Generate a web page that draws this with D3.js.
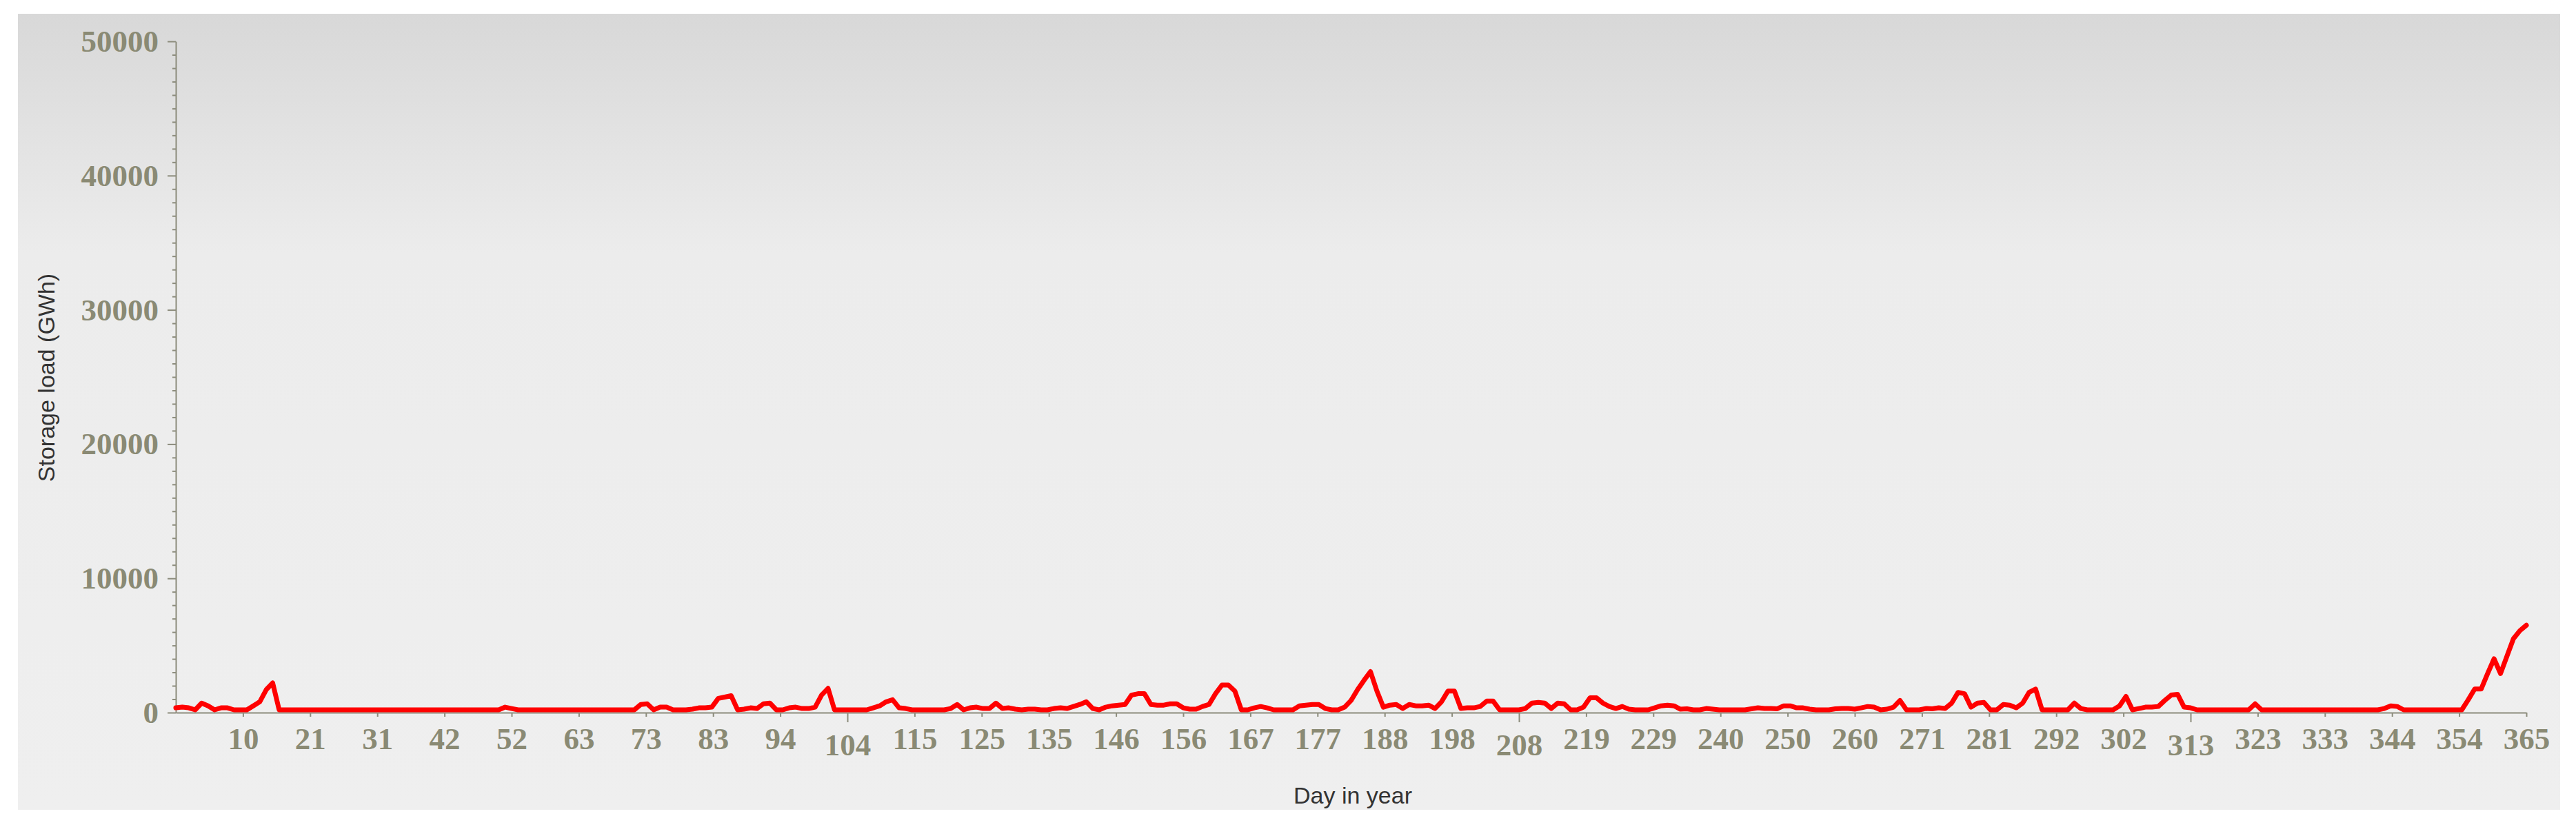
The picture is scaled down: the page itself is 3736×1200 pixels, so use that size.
<!DOCTYPE html>
<html>
<head>
<meta charset="utf-8">
<script src="https://cdn.jsdelivr.net/npm/d3@7"></script>
<style>
  html, body { margin: 0; padding: 0; background: #ffffff; }
  svg { display: block; }
</style>
</head>
<body>
<svg id="chart" width="3736" height="1200"></svg>
<script>
// ---- Data ----
const yTickValues = [0, 10000, 20000, 30000, 40000, 50000];
const xTickLabels = ["10","21","31","42","52","63","73","83","94","104","115","125","135","146","156","167","177","188","198","208","219","229","240","250","260","271","281","292","302","313","323","333","344","354","365"];
const staggeredLabels = ["104","208","313"];
// daily storage load (GWh), day index 0..364
const storageLoad = [
  150,200,150,0,500,300,0,150,150,0,            // 0-9
  0,0,300,600,1500,2000,0,0,0,0,                // 10-19
  0,0,0,0,0,0,0,0,0,0,                          // 20-29
  0,0,0,0,0,0,0,0,0,0,                          // 30-39
  0,0,0,0,0,0,0,0,0,0,                          // 40-49
  0,200,100,0,0,0,0,0,0,0,                      // 50-59
  0,0,0,0,0,0,0,0,0,0,                          // 60-69
  0,0,400,450,0,200,200,0,0,0,                  // 70-79
  50,150,150,200,850,950,1050,0,50,150,         // 80-89
  100,450,500,0,0,150,200,100,100,200,          // 90-99
  1100,1600,0,0,0,0,0,0,150,300,                // 100-109
  600,750,150,100,0,0,0,0,0,0,                  // 110-119
  100,400,0,150,200,100,100,500,100,150,        // 120-129
  50,0,50,50,0,0,100,150,100,250,               // 130-139
  400,600,100,0,200,300,350,400,1100,1200,      // 140-149
  1200,400,350,350,450,450,150,50,50,250,       // 150-159
  400,1200,1850,1850,1400,0,0,150,250,150,      // 160-169
  0,0,0,0,300,350,400,400,100,0,                // 170-179
  0,200,700,1500,2200,2850,1400,200,350,400,    // 180-189
  100,400,300,300,350,100,600,1400,1400,100,    // 190-199
  150,150,250,650,650,0,0,0,0,100,              // 200-209
  500,550,500,100,500,450,0,0,200,900,          // 210-219
  900,500,250,100,250,50,0,0,0,150,             // 220-229
  300,350,300,50,80,0,0,100,50,0,               // 230-239
  0,0,0,0,80,150,100,100,80,300,                // 240-249
  300,150,150,50,0,0,0,80,100,100,              // 250-259
  50,150,250,200,0,50,200,700,0,0,              // 260-269
  0,100,80,150,100,500,1300,1200,200,500,       // 270-279
  550,0,0,400,350,150,500,1300,1550,0,          // 280-289
  0,0,0,0,500,100,0,0,0,0,                      // 290-299
  0,300,1000,0,100,200,200,250,700,1100,        // 300-309
  1150,200,150,0,0,0,0,0,0,0,                   // 310-319
  0,0,450,0,0,0,0,0,0,0,                        // 320-329
  0,0,0,0,0,0,0,0,0,0,                          // 330-339
  0,0,100,300,250,0,0,0,0,0,                    // 340-349
  0,0,0,0,0,750,1550,1550,2700,3800,            // 350-359
  2700,4000,5300,5900,6300                      // 360-364
];
const days = storageLoad.map((v, i) => i);

// ---- Chart ----
const svg = d3.select("#chart");

const defs = svg.append("defs");
const grad = defs.append("linearGradient")
  .attr("id", "bg").attr("x1", 0).attr("y1", 0).attr("x2", 0).attr("y2", 1);
grad.append("stop").attr("offset", "0%").attr("stop-color", "#d8d8d8");
grad.append("stop").attr("offset", "30%").attr("stop-color", "#ececec");
grad.append("stop").attr("offset", "100%").attr("stop-color", "#efefef");

svg.append("rect")
  .attr("x", 26).attr("y", 20).attr("width", 3687).attr("height", 1155)
  .attr("fill", "url(#bg)");

const x = d3.scaleLinear().domain([0, 364]).range([255, 3664]);
const y = d3.scaleLinear().domain([0, 50000]).range([1034, 60]);

const axisColor = "#8c8c7c";
const tickText = "#8a8a74";

// minor y ticks
const minorVals = d3.range(0, 50001, 1000).filter(v => v % 10000 !== 0);
const yMinor = svg.append("g").attr("transform", `translate(${x(0)},0)`)
  .call(d3.axisLeft(y).tickValues(minorVals).tickSize(5).tickSizeOuter(0).tickFormat(""));
yMinor.select(".domain").remove();

// major y axis
const yAxis = svg.append("g").attr("transform", `translate(${x(0)},0)`)
  .call(d3.axisLeft(y).tickValues(yTickValues).tickSize(12).tickSizeOuter(0)
    .tickPadding(13).tickFormat(d3.format("d")));
yAxis.selectAll("text")
  .attr("font-family", "'Liberation Serif', 'Times New Roman', serif")
  .attr("font-weight", "bold")
  .attr("font-size", 45)
  .attr("fill", tickText);

[yMinor, yAxis].forEach(g => {
  g.selectAll("line").attr("stroke", axisColor).attr("stroke-width", 2);
  g.selectAll(".domain").attr("stroke", axisColor).attr("stroke-width", 2);
});

// x axis
const xTickVals = xTickLabels.map((l, i) => (i + 1) * 364 / 35);
const xAxis = svg.append("g").attr("transform", `translate(0,${y(0)})`)
  .call(d3.axisBottom(x).tickValues(xTickVals).tickSize(6).tickSizeOuter(0)
    .tickFormat((d, i) => xTickLabels[i]));
xAxis.selectAll(".domain").attr("stroke", axisColor).attr("stroke-width", 2);
xAxis.selectAll(".tick line")
  .attr("stroke", axisColor).attr("stroke-width", 2)
  .attr("y2", (d, i) => staggeredLabels.includes(xTickLabels[i]) ? 14 : 6);
xAxis.selectAll(".tick text")
  .attr("font-family", "'Liberation Serif', 'Times New Roman', serif")
  .attr("font-weight", "bold")
  .attr("font-size", 45)
  .attr("fill", tickText)
  .attr("dy", null)
  .attr("y", (d, i) => staggeredLabels.includes(xTickLabels[i]) ? 62 : 53);

// line
const line = d3.line()
  .x((d, i) => x(days[i]))
  .y(d => y(d));
svg.append("path")
  .datum(storageLoad)
  .attr("transform", "translate(0,-4)")
  .attr("fill", "none")
  .attr("stroke", "#ff0000")
  .attr("stroke-width", 7)
  .attr("stroke-linejoin", "round")
  .attr("stroke-linecap", "round")
  .attr("d", line);

// axis titles
svg.append("text")
  .attr("transform", "translate(79,548) rotate(-90)")
  .attr("text-anchor", "middle")
  .attr("font-family", "'Liberation Sans', Arial, sans-serif")
  .attr("font-size", 34)
  .attr("fill", "#333333")
  .text("Storage load (GWh)");

svg.append("text")
  .attr("x", 1962).attr("y", 1166)
  .attr("text-anchor", "middle")
  .attr("font-family", "'Liberation Sans', Arial, sans-serif")
  .attr("font-size", 34)
  .attr("fill", "#333333")
  .text("Day in year");
</script>
</body>
</html>
